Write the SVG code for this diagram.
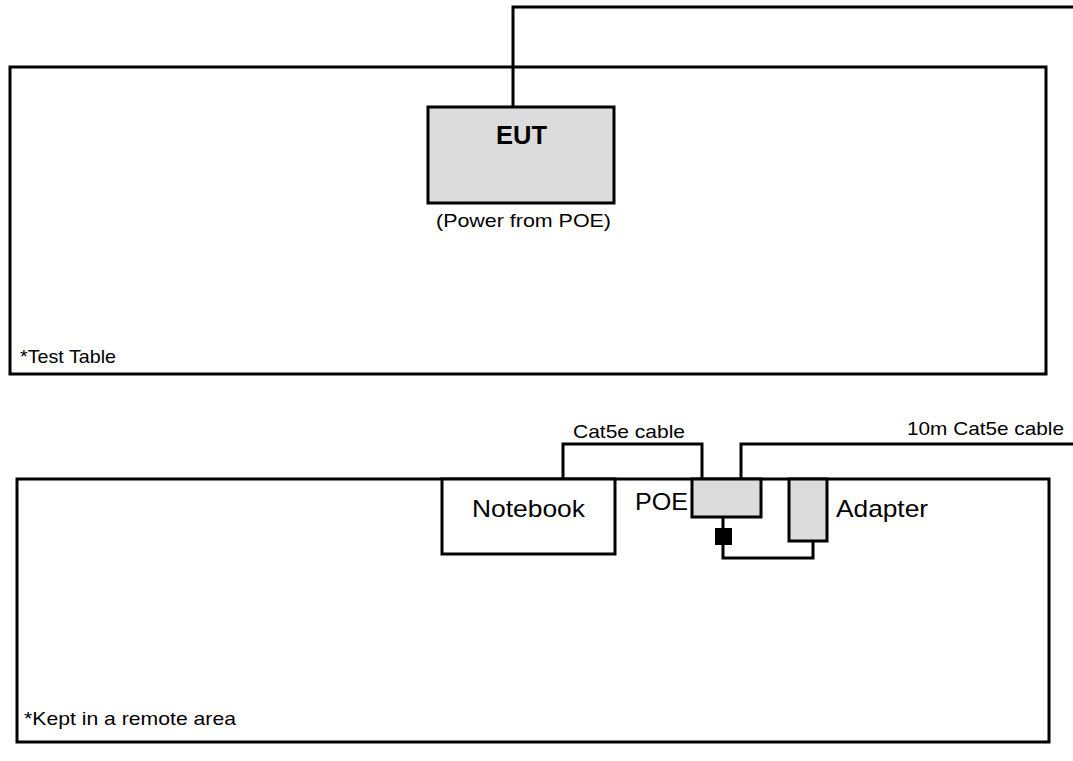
<svg xmlns="http://www.w3.org/2000/svg" width="1073" height="761" viewBox="0 0 1073 761">
<style>
.box{fill:#fff;stroke:#000;stroke-width:3}
.dev{fill:#dcdcdc;stroke:#000;stroke-width:3}
.wire{fill:none;stroke:#000;stroke-width:3}
.t{font-family:"Liberation Sans",Arial,sans-serif;fill:#000}
.s{font-size:19px}
.m{font-size:24px}
.b{font-size:25px;font-weight:bold}
</style>
<rect width="1073" height="761" fill="#fff"/>
<g id="test-table">
<rect class="box" x="10" y="67" width="1036" height="307"/>
<text class="t s" x="20" y="363" textLength="96" lengthAdjust="spacingAndGlyphs">*Test Table</text>
</g>
<g id="remote-area">
<rect class="box" x="17" y="479" width="1032" height="263"/>
<text class="t s" x="24" y="725" textLength="212" lengthAdjust="spacingAndGlyphs">*Kept in a remote area</text>
</g>
<g id="connectors">
<polyline class="wire" points="513,107 513,7 1073,7"/>
<polyline class="wire" points="563,479 563,444 702,444 702,479"/>
<polyline class="wire" points="741,479 741,444 1073,444"/>
<polyline class="wire" points="723,517 723,528"/>
<polyline class="wire" points="723,545 723,558 813,558 813,541"/>
<text class="t s" x="573" y="438" textLength="112" lengthAdjust="spacingAndGlyphs">Cat5e cable</text>
<text class="t s" x="907" y="435" textLength="157" lengthAdjust="spacingAndGlyphs">10m Cat5e cable</text>
</g>
<g id="eut">
<rect class="dev" x="428" y="107" width="186" height="96"/>
<text class="t b" x="496" y="144" textLength="51" lengthAdjust="spacingAndGlyphs">EUT</text>
<text class="t s" x="436" y="227" textLength="175" lengthAdjust="spacingAndGlyphs">(Power from POE)</text>
</g>
<g id="notebook">
<rect class="box" x="442" y="479" width="173" height="75"/>
<text class="t m" x="472" y="517" textLength="113" lengthAdjust="spacingAndGlyphs">Notebook</text>
</g>
<g id="poe">
<rect class="dev" x="692" y="479" width="69" height="38"/>
<text class="t m" x="635" y="510" textLength="53" lengthAdjust="spacingAndGlyphs">POE</text>
</g>
<g id="plug">
<rect x="715" y="528" width="17" height="17" fill="#000"/>
</g>
<g id="adapter">
<rect class="dev" x="789" y="479" width="38" height="62"/>
<text class="t m" x="836" y="517" textLength="92" lengthAdjust="spacingAndGlyphs">Adapter</text>
</g>
</svg>
